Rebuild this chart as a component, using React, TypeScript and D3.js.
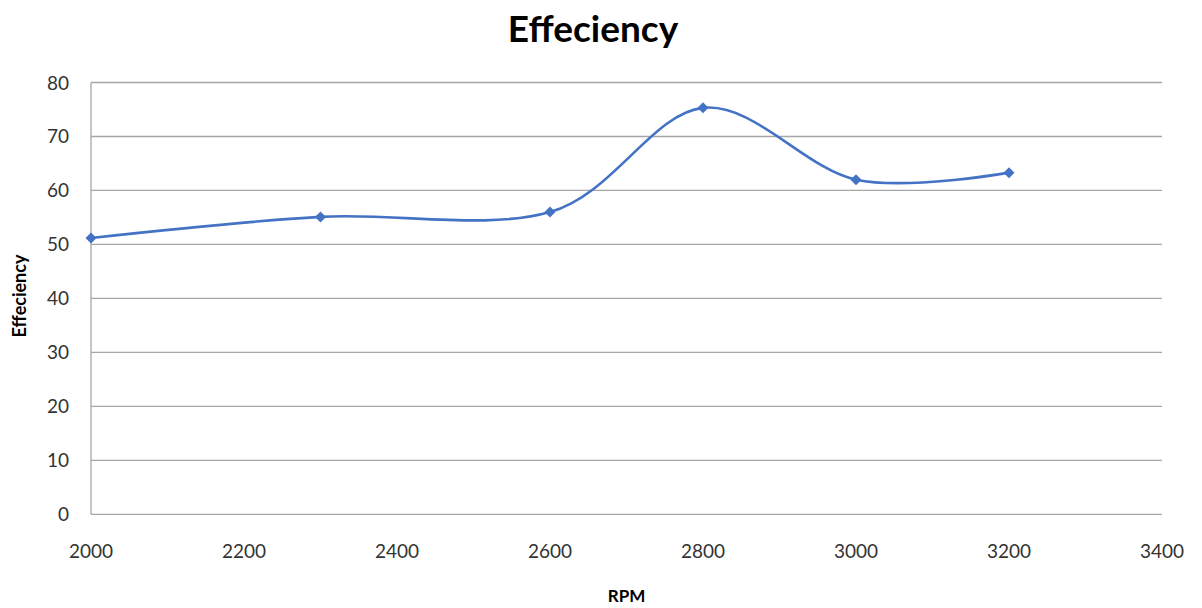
import React from "react";
import * as d3 from "d3";

const rpm = [2000, 2300, 2600, 2800, 3000, 3200];
const efficiency = [51.2, 55.1, 56.0, 75.3, 62.0, 63.3];
const yTicks = [0, 10, 20, 30, 40, 50, 60, 70, 80];
const xTicks = [2000, 2200, 2400, 2600, 2800, 3000, 3200, 3400];

const W = 1202;
const H = 608;
const left = 91, right = 1162, top = 82.5, bottom = 514.3;
const font = "Lato, 'Open Sans', sans-serif";

export default function App() {
  const x = d3.scaleLinear().domain([2000, 3400]).range([left, right]);
  const y = d3.scaleLinear().domain([0, 80]).range([bottom, top]);
  const pts = rpm.map((r, i) => [r, efficiency[i]] as [number, number]);
  const line = d3
    .line<[number, number]>()
    .x((d) => x(d[0]))
    .y((d) => y(d[1]))
    .curve(d3.curveCardinal.tension(0));
  const diamond = (cx: number, cy: number) =>
    `M${cx},${cy - 5.5}L${cx + 5.5},${cy}L${cx},${cy + 5.5}L${cx - 5.5},${cy}Z`;
  return (
    <svg width={W} height={H} style={{ position: "absolute", left: 0, top: 0, background: "#fff" }}>
      <rect width={W} height={H} fill="#fff" />
      <text x={593} y={42} textAnchor="middle" fontFamily={font} fontWeight="bold" fontSize={37} fill="#000">
        Effeciency
      </text>
      {yTicks.map((t) => (
        <g key={t}>
          <line x1={left} x2={right} y1={y(t)} y2={y(t)} stroke="#a6a6a6" strokeWidth={1.3} />
          <text x={69} y={y(t) + 7} textAnchor="end" fontFamily={font} fontSize={19} fill="#333">
            {t}
          </text>
        </g>
      ))}
      <line x1={left} x2={left} y1={top} y2={bottom} stroke="#a6a6a6" strokeWidth={1.3} />
      {xTicks.map((t) => (
        <text key={t} x={x(t)} y={558} textAnchor="middle" fontFamily={font} fontSize={19} fill="#333">
          {t}
        </text>
      ))}
      <text x={626.5} y={601.5} textAnchor="middle" fontFamily={font} fontWeight="bold" fontSize={17} fill="#000">
        RPM
      </text>
      <text
        transform={`translate(25.5,296) rotate(-90)`}
        textAnchor="middle"
        fontFamily={font}
        fontWeight="bold"
        fontSize={18}
        fill="#000"
      >
        Effeciency
      </text>
      <path d={line(pts) ?? ""} fill="none" stroke="#4472C4" strokeWidth={2.6} />
      {pts.map((p, i) => (
        <path key={i} d={diamond(x(p[0]), y(p[1]))} fill="#4472C4" />
      ))}
    </svg>
  );
}
